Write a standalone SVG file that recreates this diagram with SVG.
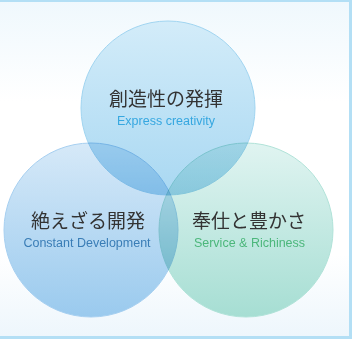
<svg xmlns="http://www.w3.org/2000/svg" width="352" height="339" viewBox="0 0 352 339">
  <defs>
    <linearGradient id="bg" x1="0" y1="0" x2="0" y2="1">
      <stop offset="0" stop-color="#eff8fd"/>
      <stop offset="0.3" stop-color="#ffffff"/>
      <stop offset="0.75" stop-color="#ffffff"/>
      <stop offset="1" stop-color="#edf6fc"/>
    </linearGradient>
    <linearGradient id="gTop" x1="0" y1="0" x2="0" y2="1">
      <stop offset="0" stop-color="#d3ecf9"/>
      <stop offset="1" stop-color="#a9d8f2"/>
    </linearGradient>
    <linearGradient id="gLeft" x1="0" y1="0" x2="0" y2="1">
      <stop offset="0" stop-color="#d6e9f8"/>
      <stop offset="1" stop-color="#9acaee"/>
    </linearGradient>
    <linearGradient id="gRight" x1="0" y1="0" x2="0" y2="1">
      <stop offset="0" stop-color="#e0f4f1"/>
      <stop offset="1" stop-color="#a6ded3"/>
    </linearGradient>
    <style>
      .c { mix-blend-mode: multiply; stroke-width: 1; }
      .jp { font-family: "Noto Sans CJK JP", sans-serif; font-size: 19px; fill: #333333; text-anchor: middle; }
      .en { font-family: "Liberation Sans", Arial, sans-serif; font-size: 12.5px; text-anchor: middle; }
    </style>
  </defs>
  <rect x="0" y="0" width="352" height="339" fill="url(#bg)"/>
  <g id="frame" fill="#b3dff5">
    <rect x="0" y="0" width="352" height="2"/>
    <rect x="349" y="0" width="3" height="339"/>
    <rect x="0" y="336" width="352" height="3"/>
  </g>
  <g style="isolation:isolate">
    <g id="node-top">
      <circle class="c" cx="168" cy="108" r="87" fill="url(#gTop)" stroke="#a0d4f0"/>
    </g>
    <g id="node-left">
      <circle class="c" cx="91" cy="230" r="87" fill="url(#gLeft)" stroke="#a6cff0"/>
    </g>
    <g id="node-right">
      <circle class="c" cx="246" cy="230" r="87" fill="url(#gRight)" stroke="#b0e2d8"/>
    </g>
  </g>
  <g id="labels">
    <text class="jp" x="166" y="106">創造性の発揮</text>
    <text class="en" x="166" y="125" fill="#36a7e0">Express creativity</text>
    <text class="jp" x="88" y="228">絶えざる開発</text>
    <text class="en" x="87" y="247" fill="#3a7db6">Constant Development</text>
    <text class="jp" x="249" y="228">奉仕と豊かさ</text>
    <text class="en" x="249.5" y="247" fill="#4cb77b">Service &amp; Richiness</text>
  </g>
</svg>
